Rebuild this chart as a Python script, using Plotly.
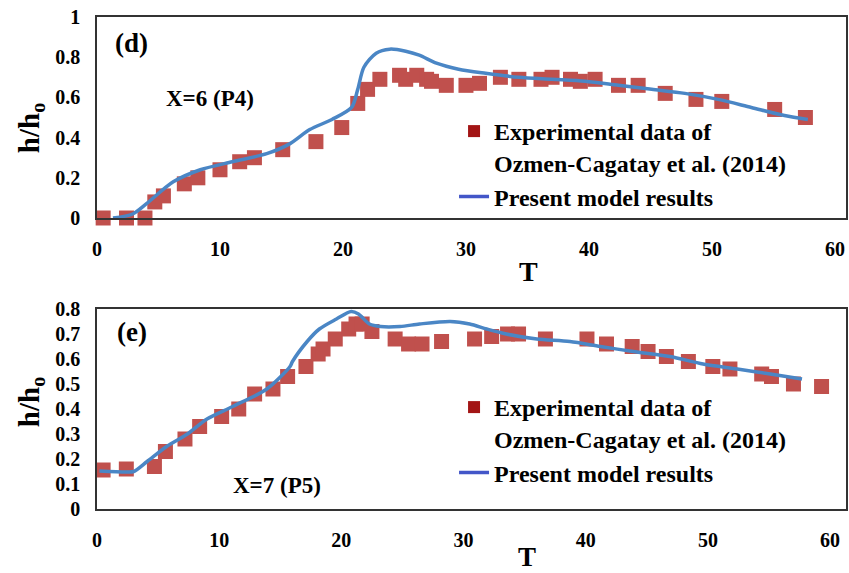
import plotly.graph_objects as go

# ---------------- data: panel (d) X=6 (P4) ----------------
d_exp_T = [0.5, 2.4, 3.9, 4.7, 5.4, 7.1, 8.2, 10.0, 11.6, 12.8, 15.1, 17.8, 19.9,
           21.2, 22.0, 23.0, 24.6, 25.1, 26.0, 26.8, 27.2, 28.4, 30.0, 31.1, 32.8,
           34.3, 36.1, 37.0, 38.5, 39.3, 40.5, 42.4, 44.0, 46.2, 48.7, 50.8, 55.1, 57.6]
d_exp_h = [0.0, 0.0, 0.0, 0.08, 0.11, 0.17, 0.20, 0.24, 0.28, 0.30, 0.34, 0.38, 0.45,
           0.57, 0.64, 0.69, 0.71, 0.69, 0.71, 0.69, 0.68, 0.66, 0.66, 0.67, 0.70,
           0.69, 0.69, 0.70, 0.69, 0.68, 0.69, 0.66, 0.66, 0.62, 0.59, 0.58, 0.54, 0.50]
d_mod_T = [1.3, 2.9, 4.0, 6.2, 8.4, 11.0, 13.8, 15.7, 17.3, 19.1, 20.7, 21.2, 21.7,
           22.7, 23.8, 25.1, 26.2, 27.6, 29.4, 31.6, 34.3, 37.0, 39.7, 42.4, 45.1,
           47.8, 50.5, 53.2, 55.9, 57.8]
d_mod_h = [0.0, 0.02, 0.07, 0.18, 0.24, 0.28, 0.32, 0.37, 0.44, 0.49, 0.55, 0.64, 0.75,
           0.82, 0.84, 0.83, 0.81, 0.77, 0.74, 0.72, 0.70, 0.69, 0.68, 0.66, 0.64,
           0.62, 0.59, 0.55, 0.51, 0.49]

# ---------------- data: panel (e) X=7 (P5) ----------------
e_exp_T = [0.5, 2.4, 4.7, 5.6, 7.2, 8.4, 10.2, 11.6, 12.9, 14.4, 15.6, 17.1, 18.1,
           18.5, 19.5, 20.6, 21.2, 21.7, 22.5, 24.4, 25.5, 26.6, 28.2, 30.9, 32.3,
           33.6, 34.5, 36.7, 40.1, 41.7, 43.8, 45.1, 46.6, 48.4, 50.4, 51.8, 54.4,
           55.2, 57.0, 59.3]
e_exp_h = [0.156, 0.16, 0.17, 0.23, 0.28, 0.33, 0.37, 0.40, 0.46, 0.48, 0.53, 0.57, 0.62,
           0.64, 0.68, 0.72, 0.74, 0.74, 0.71, 0.68, 0.66, 0.66, 0.67, 0.68, 0.69,
           0.70, 0.70, 0.68, 0.68, 0.66, 0.65, 0.63, 0.61, 0.59, 0.57, 0.56, 0.54,
           0.53, 0.50, 0.49]
e_mod_T = [0.2, 2.4, 3.0, 4.1, 5.7, 7.4, 9.0, 11.1, 13.9, 15.8, 16.0, 17.2, 18.2,
           19.6, 20.8, 21.4, 22.3, 23.2, 24.8, 26.4, 28.9, 30.5, 31.9, 33.5, 36.0,
           38.7, 41.2, 43.9, 46.9, 49.6, 52.4, 55.1, 57.7]
e_mod_h = [0.152, 0.148, 0.15, 0.19, 0.25, 0.30, 0.36, 0.41, 0.48, 0.57, 0.59, 0.67, 0.72,
           0.76, 0.79, 0.78, 0.74, 0.73, 0.73, 0.74, 0.75, 0.74, 0.72, 0.70, 0.68,
           0.67, 0.65, 0.63, 0.61, 0.58, 0.56, 0.54, 0.52]

x_ticks = [0, 10, 20, 30, 40, 50, 60]
d_y_ticks = [0, 0.2, 0.4, 0.6, 0.8, 1]
d_y_labels = ["0", "0.2", "0.4", "0.6", "0.8", "1"]
e_y_ticks = [0, 0.1, 0.2, 0.3, 0.4, 0.5, 0.6, 0.7, 0.8]
e_y_labels = ["0", "0.1", "0.2", "0.3", "0.4", "0.5", "0.6", "0.7", "0.8"]

EXP_NAME = "Experimental data of<br>Ozmen-Cagatay et al. (2014)"
MOD_NAME = "Present model results"

FONT = "Liberation Serif"
RED = "#C0504D"
BLUE = "#4A86C5"
LEG_RED = "#A31515"
LEG_BLUE = "#4356C8"

W, H = 849, 573
L, R, T, B = 97, 1, 17, 64
PW, PH = W - L - R, H - T - B


def px(x):
    return (x - L) / PW


def py(y):
    return (H - B - y) / PH


fig = go.Figure()

for exp_T, exp_h, mod_T, mod_h, xa, ya, lg in [
    (d_exp_T, d_exp_h, d_mod_T, d_mod_h, "x", "y", "legend"),
    (e_exp_T, e_exp_h, e_mod_T, e_mod_h, "x2", "y2", "legend2"),
]:
    fig.add_trace(go.Scatter(
        x=exp_T, y=exp_h, mode="markers", name=EXP_NAME, showlegend=False,
        marker=dict(symbol="square", size=15, color=RED),
        xaxis=xa, yaxis=ya, cliponaxis=False))
    fig.add_trace(go.Scatter(
        x=mod_T, y=mod_h, mode="lines", name=MOD_NAME, showlegend=False,
        line=dict(color=BLUE, width=3.5, shape="spline", smoothing=0.8),
        xaxis=xa, yaxis=ya, cliponaxis=False))
    # legend entries
    fig.add_trace(go.Scatter(
        x=[None], y=[None], mode="markers", name=EXP_NAME,
        marker=dict(symbol="square", size=12, color=LEG_RED),
        xaxis=xa, yaxis=ya, legend=lg))
    fig.add_trace(go.Scatter(
        x=[None], y=[None], mode="lines", name=MOD_NAME,
        line=dict(color=LEG_BLUE, width=3.5),
        xaxis=xa, yaxis=ya, legend=lg))

top_lo = py(218)
bot_hi = py(309)

axis_common = dict(showline=True, linecolor="#333333", linewidth=1.5, mirror=True,
                   showgrid=False, zeroline=False, ticks="",
                   tickfont=dict(family=FONT, size=20, color="black", weight="bold"))

leg_common = dict(xanchor="left", yanchor="top", bgcolor="rgba(0,0,0,0)",
                  valign="top", tracegroupgap=0,
                  font=dict(family=FONT, size=24, color="black", weight="bold"))

fig.update_layout(
    width=W, height=H,
    margin=dict(l=L, r=R, t=T, b=B),
    paper_bgcolor="white", plot_bgcolor="white",
    font=dict(family=FONT, color="black"),
    xaxis=dict(domain=[0, 1], range=[0, 60.9], tickvals=x_ticks, anchor="y",
               ticklabelstandoff=12, **axis_common),
    yaxis=dict(domain=[top_lo, 1], range=[0, 1], tickvals=d_y_ticks, ticktext=d_y_labels,
               anchor="x", ticklabelstandoff=11, **axis_common),
    xaxis2=dict(domain=[0, 1], range=[0, 61.3], tickvals=x_ticks, anchor="y2",
                ticklabelstandoff=12, **axis_common),
    yaxis2=dict(domain=[0, bot_hi], range=[0, 0.8], tickvals=e_y_ticks, ticktext=e_y_labels,
                anchor="x2", ticklabelstandoff=11, **axis_common),
    legend=dict(x=px(455), y=py(109), **leg_common),
    legend2=dict(x=px(455), y=py(385), **leg_common),
)

ann_font = dict(family=FONT, color="black", weight="bold")
annotations = [
    dict(text="(d)", x=px(132), y=py(43), size=27),
    dict(text="X=6 (P4)", x=px(210), y=py(98), size=23),
    dict(text="(e)", x=px(132), y=py(332), size=27),
    dict(text="X=7 (P5)", x=px(277), y=py(485), size=23),
    dict(text="T", x=px(530), y=py(271), size=28),
    dict(text="T", x=px(528), y=py(557), size=27),
]
for a in annotations:
    fig.add_annotation(text=a["text"], x=a["x"], y=a["y"], xref="paper", yref="paper",
                       showarrow=False, xanchor="center", yanchor="middle",
                       font=dict(size=a["size"], **ann_font))
for txt_y in [py(128), py(402)]:
    fig.add_annotation(text="h/h<sub>o</sub>", x=px(31), y=txt_y, xref="paper", yref="paper",
                       showarrow=False, textangle=-90, xanchor="center", yanchor="middle",
                       font=dict(size=29, **ann_font))

fig.write_html("out.html", config={"displayModeBar": False},
               post_script="document.body.style.margin='0';document.body.style.overflow='hidden';")
